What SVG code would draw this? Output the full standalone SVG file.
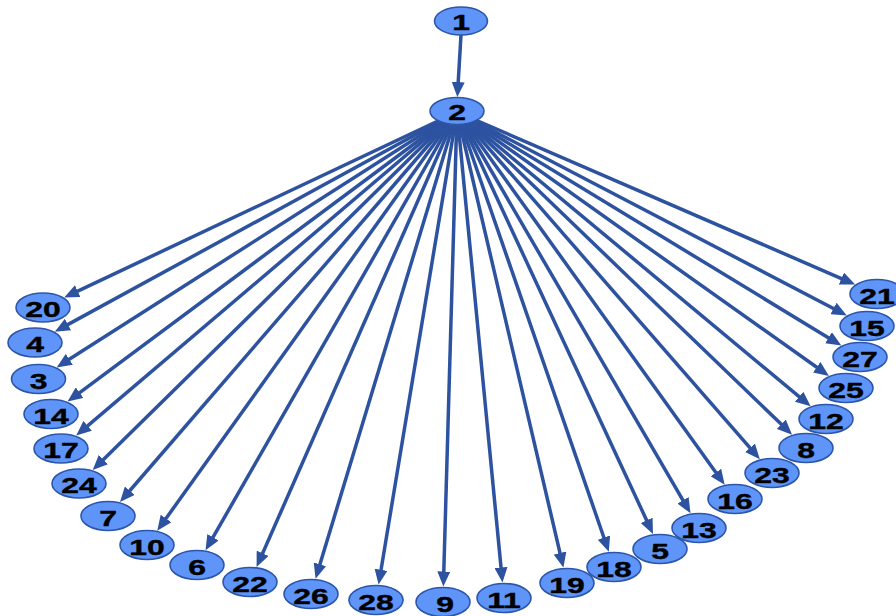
<svg xmlns="http://www.w3.org/2000/svg" width="896" height="616" viewBox="0 0 896 616">
<style>
.n ellipse{fill:#5f95f8;stroke:#2c56aa;stroke-width:1.6}
.n text{font-family:"Liberation Sans",Arial,sans-serif;font-weight:bold;font-size:22px;fill:#000;stroke:#000;stroke-width:0.4;text-anchor:middle}
#edges line{stroke:#2d52a0;stroke-width:3.5;marker-end:url(#ah)}
</style>
<defs>
<marker id="ah" markerUnits="userSpaceOnUse" markerWidth="16" markerHeight="13" refX="7" refY="6.5" orient="auto">
<path d="M0,0 L15,6.5 L0,13 Z" fill="#2d52a0"/>
</marker>
</defs>
<rect width="896" height="616" fill="#fff"/>
<g id="edges">
<line x1="461" y1="35" x2="457.8" y2="89"/>
<line x1="457" y1="112" x2="71.4" y2="294.1"/>
<line x1="457" y1="112" x2="61.8" y2="327.9"/>
<line x1="457" y1="112" x2="63.4" y2="363.1"/>
<line x1="457" y1="112" x2="74" y2="396.8"/>
<line x1="457" y1="112" x2="82.3" y2="430.4"/>
<line x1="457" y1="112" x2="98.4" y2="464.4"/>
<line x1="457" y1="112" x2="125.2" y2="496"/>
<line x1="457" y1="112" x2="161.9" y2="524.2"/>
<line x1="457" y1="112" x2="209.5" y2="543.4"/>
<line x1="457" y1="112" x2="259.8" y2="559.7"/>
<line x1="457" y1="112" x2="317.9" y2="571"/>
<line x1="457" y1="112" x2="379.9" y2="576.7"/>
<line x1="457" y1="112" x2="443.6" y2="578.5"/>
<line x1="457" y1="112" x2="501.7" y2="574.5"/>
<line x1="457" y1="112" x2="561.6" y2="559.8"/>
<line x1="457" y1="112" x2="606.2" y2="544.2"/>
<line x1="457" y1="112" x2="649.6" y2="526.7"/>
<line x1="457" y1="112" x2="686.5" y2="506.4"/>
<line x1="457" y1="112" x2="720" y2="478.2"/>
<line x1="457" y1="112" x2="754.6" y2="453.1"/>
<line x1="457" y1="112" x2="786.3" y2="429.1"/>
<line x1="457" y1="112" x2="804.5" y2="401.1"/>
<line x1="457" y1="112" x2="822.4" y2="371.3"/>
<line x1="457" y1="112" x2="834.5" y2="341.4"/>
<line x1="457" y1="112" x2="839.7" y2="311.7"/>
<line x1="457" y1="112" x2="847.8" y2="281.3"/>
</g>
<g id="n1" class="n"><ellipse cx="461" cy="21" rx="26.5" ry="14"/><text transform="translate(461,29.5) scale(1.45,1)">1</text></g>
<g id="n2" class="n"><ellipse cx="457" cy="111" rx="27" ry="13.5"/><text transform="translate(457,119.5) scale(1.45,1)">2</text></g>
<g id="n20" class="n"><ellipse cx="43" cy="307.5" rx="27" ry="14.5"/><text transform="translate(43,317) scale(1.45,1)">20</text></g>
<g id="n4" class="n"><ellipse cx="35" cy="342.5" rx="27" ry="14.5"/><text transform="translate(35,352) scale(1.45,1)">4</text></g>
<g id="n3" class="n"><ellipse cx="38.5" cy="379" rx="27" ry="14.5"/><text transform="translate(38.5,388.5) scale(1.45,1)">3</text></g>
<g id="n14" class="n"><ellipse cx="51" cy="414" rx="27" ry="14.5"/><text transform="translate(51,423.5) scale(1.45,1)">14</text></g>
<g id="n17" class="n"><ellipse cx="61" cy="448.5" rx="27" ry="14.5"/><text transform="translate(61,458) scale(1.45,1)">17</text></g>
<g id="n24" class="n"><ellipse cx="79" cy="483.5" rx="27" ry="14.5"/><text transform="translate(79,493) scale(1.45,1)">24</text></g>
<g id="n7" class="n"><ellipse cx="108" cy="516" rx="27" ry="14.5"/><text transform="translate(108,525.5) scale(1.45,1)">7</text></g>
<g id="n10" class="n"><ellipse cx="147" cy="545" rx="27" ry="14.5"/><text transform="translate(147,554.5) scale(1.45,1)">10</text></g>
<g id="n6" class="n"><ellipse cx="197" cy="565" rx="27" ry="14.5"/><text transform="translate(197,574.5) scale(1.45,1)">6</text></g>
<g id="n22" class="n"><ellipse cx="250" cy="582" rx="27" ry="14.5"/><text transform="translate(250,591.5) scale(1.45,1)">22</text></g>
<g id="n26" class="n"><ellipse cx="311" cy="594" rx="27" ry="14.5"/><text transform="translate(311,603.5) scale(1.45,1)">26</text></g>
<g id="n28" class="n"><ellipse cx="376" cy="600" rx="27" ry="14.5"/><text transform="translate(376,609.5) scale(1.45,1)">28</text></g>
<g id="n9" class="n"><ellipse cx="443" cy="602" rx="27" ry="14.5"/><text transform="translate(445,611.5) scale(1.45,1)">9</text></g>
<g id="n11" class="n"><ellipse cx="504" cy="598" rx="27" ry="14.5"/><text transform="translate(504,607.5) scale(1.45,1)">11</text></g>
<g id="n19" class="n"><ellipse cx="567" cy="583" rx="27" ry="14.5"/><text transform="translate(567,592.5) scale(1.45,1)">19</text></g>
<g id="n18" class="n"><ellipse cx="614" cy="567" rx="27" ry="14.5"/><text transform="translate(614,576.5) scale(1.45,1)">18</text></g>
<g id="n5" class="n"><ellipse cx="660" cy="549" rx="27" ry="14.5"/><text transform="translate(660,558.5) scale(1.45,1)">5</text></g>
<g id="n13" class="n"><ellipse cx="699" cy="528" rx="27" ry="14.5"/><text transform="translate(699,537.5) scale(1.45,1)">13</text></g>
<g id="n16" class="n"><ellipse cx="735" cy="499" rx="27" ry="14.5"/><text transform="translate(735,508.5) scale(1.45,1)">16</text></g>
<g id="n23" class="n"><ellipse cx="772" cy="473" rx="27" ry="14.5"/><text transform="translate(772,482.5) scale(1.45,1)">23</text></g>
<g id="n8" class="n"><ellipse cx="806" cy="448" rx="27" ry="14.5"/><text transform="translate(806,457.5) scale(1.45,1)">8</text></g>
<g id="n12" class="n"><ellipse cx="826" cy="419" rx="27" ry="14.5"/><text transform="translate(826,428.5) scale(1.45,1)">12</text></g>
<g id="n25" class="n"><ellipse cx="846" cy="388" rx="27" ry="14.5"/><text transform="translate(846,397.5) scale(1.45,1)">25</text></g>
<g id="n27" class="n"><ellipse cx="860" cy="357" rx="27" ry="14.5"/><text transform="translate(860,366.5) scale(1.45,1)">27</text></g>
<g id="n15" class="n"><ellipse cx="867" cy="326" rx="27" ry="14.5"/><text transform="translate(867,335.5) scale(1.45,1)">15</text></g>
<g id="n21" class="n"><ellipse cx="877" cy="294" rx="27" ry="14.5"/><text transform="translate(877,303.5) scale(1.45,1)">21</text></g>
</svg>
